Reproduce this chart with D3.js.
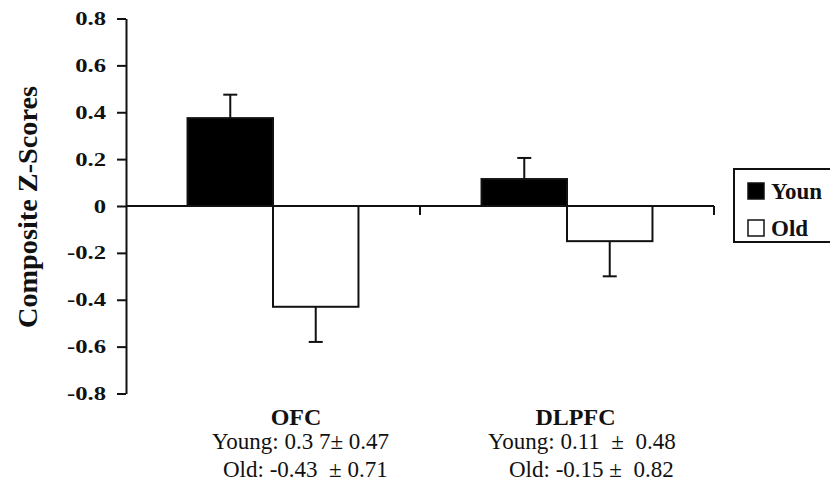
<!DOCTYPE html>
<html>
<head>
<meta charset="utf-8">
<script src="https://cdn.jsdelivr.net/npm/d3@7"></script>
<style>
  html, body { margin: 0; padding: 0; background: #fff; overflow: hidden; }
  svg { display: block; }
  text { font-family: "Liberation Serif", "Times New Roman", serif; white-space: pre; }
</style>
</head>
<body>
<svg id="chart" width="830" height="483"></svg>
<script>
// ---- data ----
const categories = ["OFC", "DLPFC"];
const series = ["Young", "Old"];
const legendLabels = ["Youn", "Old"];
const youngMeans = [0.375, 0.115];
const oldMeans = [-0.43, -0.15];
const youngErr = [0.1, 0.09];
const oldErr = [0.15, 0.15];
const yTickValues = [0.8, 0.6, 0.4, 0.2, 0, -0.2, -0.4, -0.6, -0.8];
const yTickLabels = ["0.8", "0.6", "0.4", "0.2", "0", "-0.2", "-0.4", "-0.6", "-0.8"];
const youngStatLines = ["Young: 0.3 7\u00B1 0.47", "Young: 0.11  \u00B1  0.48"];
const oldStatLines = ["Old: -0.43  \u00B1 0.71", "Old: -0.15 \u00B1  0.82"];
const yTitle = "Composite Z-Scores";

// ---- layout ----
const svg = d3.select("#chart");
const plotLeft = 126, plotRight = 714, plotTop = 18.5, plotBottom = 393.5;
const y = d3.scaleLinear().domain([-0.8, 0.8]).range([plotBottom, plotTop]);
const x0 = d3.scaleBand().domain(categories).range([plotLeft, plotRight]).paddingInner(0).paddingOuter(0);
const x1 = d3.scaleBand().domain(series).range([0, x0.bandwidth()]).paddingInner(0).paddingOuter(0.72);
const colors = { Young: "#000", Old: "#fff" };
const stroke = "#111";

const rows = categories.map((c, i) => ({
  cat: c,
  vals: [
    { s: "Young", v: youngMeans[i], e: youngErr[i] },
    { s: "Old", v: oldMeans[i], e: oldErr[i] }
  ]
}));

// y axis
const yAxis = d3.axisLeft(y)
  .tickValues(yTickValues)
  .tickFormat((d, i) => yTickLabels[i])
  .tickSize(9)
  .tickSizeOuter(0);
const gy = svg.append("g").attr("transform", `translate(${plotLeft},0)`).call(yAxis);
gy.select(".domain").attr("stroke", stroke).attr("stroke-width", 2);
gy.selectAll(".tick line").attr("stroke", stroke).attr("stroke-width", 2);
const sx = 1.37;
gy.selectAll(".tick text")
  .attr("x", -20 / sx)
  .attr("dy", "0.34em")
  .attr("transform", `scale(${sx},1)`)
  .attr("font-size", 18)
  .attr("font-weight", "bold")
  .attr("fill", "#111")
  .attr("text-anchor", "end")
  .style("font-family", "'Liberation Serif', serif");

// y title
svg.append("text")
  .attr("transform", `translate(37,${(plotTop + plotBottom) / 2 + 1}) rotate(-90)`)
  .attr("text-anchor", "middle")
  .attr("font-size", 27)
  .attr("font-weight", "bold")
  .attr("fill", "#111")
  .attr("textLength", 242)
  .attr("lengthAdjust", "spacingAndGlyphs")
  .text(yTitle);

// bars
const groups = svg.append("g").selectAll("g").data(rows).join("g")
  .attr("transform", d => `translate(${x0(d.cat)},0)`);

groups.selectAll("rect").data(d => d.vals).join("rect")
  .attr("x", d => x1(d.s))
  .attr("width", x1.bandwidth())
  .attr("y", d => y(Math.max(0, d.v)))
  .attr("height", d => Math.abs(y(d.v) - y(0)))
  .attr("fill", d => colors[d.s])
  .attr("stroke", stroke)
  .attr("stroke-width", 2);

// error bars (outward only)
const capW = 14;
groups.selectAll("g.err").data(d => d.vals).join("g").attr("class", "err").each(function (d) {
  const g = d3.select(this);
  const cx = x1(d.s) + x1.bandwidth() / 2;
  const end = d.v >= 0 ? d.v + d.e : d.v - d.e;
  g.append("line").attr("x1", cx).attr("x2", cx).attr("y1", y(d.v)).attr("y2", y(end))
    .attr("stroke", stroke).attr("stroke-width", 2);
  g.append("line").attr("x1", cx - capW / 2).attr("x2", cx + capW / 2).attr("y1", y(end)).attr("y2", y(end))
    .attr("stroke", stroke).attr("stroke-width", 2);
});

// zero line and category ticks
svg.append("line")
  .attr("x1", plotLeft).attr("x2", plotRight).attr("y1", y(0)).attr("y2", y(0))
  .attr("stroke", stroke).attr("stroke-width", 2);
svg.append("g").selectAll("line").data(categories).join("line")
  .attr("x1", d => x0(d) + x0.bandwidth()).attr("x2", d => x0(d) + x0.bandwidth())
  .attr("y1", y(0)).attr("y2", y(0) + 9)
  .attr("stroke", stroke).attr("stroke-width", 2);

// category labels + stats
const titleOffset = [170, 155.5];
const youngOffset = [86, 68];
const oldOffset = [97, 89];
categories.forEach((c, i) => {
  svg.append("text")
    .attr("x", x0(c) + titleOffset[i]).attr("y", 425)
    .attr("text-anchor", "middle")
    .attr("font-size", 24).attr("font-weight", "bold").attr("fill", "#111")
    .text(c);
  svg.append("text")
    .attr("x", x0(c) + youngOffset[i]).attr("y", 449)
    .attr("font-size", 23).attr("fill", "#111")
    .text(youngStatLines[i]);
  svg.append("text")
    .attr("x", x0(c) + oldOffset[i]).attr("y", 477)
    .attr("font-size", 23).attr("fill", "#111")
    .text(oldStatLines[i]);
});

// legend
const lg = svg.append("g").attr("transform", "translate(734,169)");
lg.append("rect").attr("x", 0).attr("y", 0).attr("width", 110).attr("height", 73)
  .attr("fill", "#fff").attr("stroke", stroke).attr("stroke-width", 2);
series.forEach((s, i) => {
  const ly = 14 + i * 37;
  lg.append("rect").attr("x", 14).attr("y", ly).attr("width", 16).attr("height", 16)
    .attr("fill", colors[s]).attr("stroke", stroke).attr("stroke-width", 1.5);
  lg.append("text").attr("x", 37).attr("y", ly + 16)
    .attr("font-size", 23).attr("font-weight", "bold").attr("fill", "#111")
    .text(legendLabels[i]);
});
</script>
</body>
</html>
